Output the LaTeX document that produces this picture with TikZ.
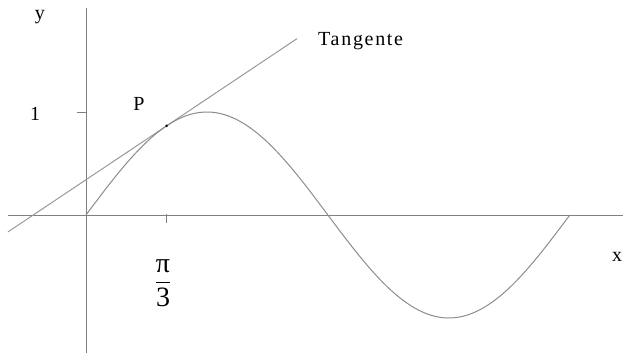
\documentclass[tikz,border=0pt]{standalone}
\usepackage{amsmath}
\usepackage{fontspec}
\setmainfont{Liberation Serif}
\begin{document}
\begin{tikzpicture}[x=77pt,y=103pt,
  axis/.style={draw=black!50, line width=0.9pt},
  lbl/.style={font=\fontsize{20}{24}\selectfont, inner sep=0pt}]
\useasboundingbox (-86pt,-138pt) rectangle (537pt,215pt);
\coordinate (o) at (0,0);
\coordinate (xl) at (-78pt,0);
\coordinate (xr) at (537pt,0);
\coordinate (yt) at (0,207pt);
\coordinate (yb) at (0,-138pt);
\coordinate (p) at ({pi/3},{sin(60)});
\coordinate (tl) at (-1.013,-0.164);
\coordinate (tr) at (2.740,1.712);
\draw[axis] (xl) -- (xr);
\draw[axis] (yb) -- (yt);
\draw[axis] (-9pt,1) -- (0,1);
\draw[axis] ({pi/3},1pt) -- ({pi/3},-8pt);
\draw[black!40, line width=1pt] (tl) -- (tr);
\draw[black!45, line width=1pt, domain=0:2*pi, samples=120, variable=\t]
  plot ({\t},{sin(\t r)});
\fill[black] (p) circle (1.4pt);
\node[lbl, anchor=base] (ylab) at (-46pt,195pt) {y};
\node[lbl, anchor=base] (one) at (-51pt,94pt) {1};
\node[lbl, anchor=base] (plab) at (53pt,104pt) {P};
\node[lbl, anchor=base west, font=\fontsize{20}{24}\selectfont\addfontfeature{LetterSpace=8.5}] (tang) at (232pt,169pt) {Tangente};
\node[lbl, anchor=base] (xlab) at (531pt,-46pt) {x};
\node[inner sep=0pt] (pi3) at (77pt,-68pt) {\fontsize{28}{32}\selectfont$\dfrac{\mbox{π}}{\mbox{3}}$};
\end{tikzpicture}
\end{document}
